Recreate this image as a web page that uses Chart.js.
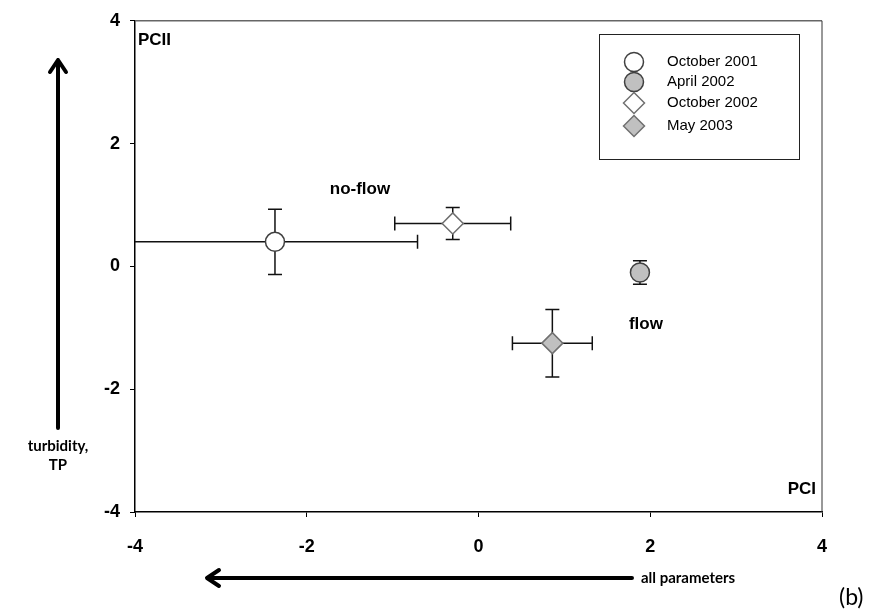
<!DOCTYPE html>
<html>
<head>
<meta charset="utf-8">
<script src="https://cdn.jsdelivr.net/npm/chart.js@4.4.0/dist/chart.umd.min.js"></script>
<style>
  html, body { margin: 0; padding: 0; background: #fff; }
  #wrap { position: relative; width: 889px; height: 615px; }
</style>
</head>
<body>
<div id="wrap">
  <canvas id="chart" width="889" height="615"></canvas>
</div>
<script>
// sampling campaigns
const seasons = ['October 2001', 'April 2002', 'October 2002', 'May 2003'];
const pc1 = [-2.37, 1.88, -0.30, 0.86];
const pc2 = [0.40, -0.10, 0.70, -1.25];
const pc1Err = [1.66, 0.05, 0.675, 0.465];
const pc2Err = [0.53, 0.19, 0.26, 0.55];
const pointStyles = ['circle', 'circle', 'rectRot', 'rectRot'];
const fills = ['#ffffff', '#c0c0c0', '#ffffff', '#c0c0c0'];
const edges = ['#404040', '#404040', '#707070', '#707070'];
const radii = [9.5, 9.5, 10.5, 10.5];
const axisTicks = [-4, -2, 0, 2, 4];

// text notes placed in PC coordinates
const notes = [
  {text: 'no-flow', x: -1.38, y: 1.25},
  {text: 'flow', x: 1.95, y: -0.94}
];

const tickFont = {family: 'Liberation Sans, Arial, sans-serif', size: 18, weight: 'bold'};

const errorBars = {
  id: 'errorBars',
  beforeDatasetsDraw(chart) {
    const {ctx, chartArea: a, scales: {x, y}} = chart;
    ctx.save();
    ctx.beginPath();
    ctx.rect(a.left, a.top, a.right - a.left, a.bottom - a.top);
    ctx.clip();
    ctx.strokeStyle = '#111';
    ctx.lineWidth = 1.5;
    const cap = 7;
    pc1.forEach((v, i) => {
      const px = x.getPixelForValue(v);
      const py = y.getPixelForValue(pc2[i]);
      const x0 = x.getPixelForValue(v - pc1Err[i]);
      const x1 = x.getPixelForValue(v + pc1Err[i]);
      const y0 = y.getPixelForValue(pc2[i] + pc2Err[i]);
      const y1 = y.getPixelForValue(pc2[i] - pc2Err[i]);
      ctx.beginPath();
      ctx.moveTo(x0, py); ctx.lineTo(x1, py);
      ctx.moveTo(x0, py - cap); ctx.lineTo(x0, py + cap);
      ctx.moveTo(x1, py - cap); ctx.lineTo(x1, py + cap);
      ctx.moveTo(px, y0); ctx.lineTo(px, y1);
      ctx.moveTo(px - cap, y0); ctx.lineTo(px + cap, y0);
      ctx.moveTo(px - cap, y1); ctx.lineTo(px + cap, y1);
      ctx.stroke();
    });
    ctx.restore();
  }
};

const extras = {
  id: 'extras',
  afterDraw(chart) {
    const {ctx, chartArea: a, scales: {x, y}} = chart;
    ctx.save();

    // frame top + right
    ctx.strokeStyle = '#666';
    ctx.lineWidth = 1.5;
    ctx.beginPath();
    ctx.moveTo(a.left, a.top); ctx.lineTo(a.right, a.top);
    ctx.stroke();
    ctx.strokeStyle = '#333';
    ctx.lineWidth = 1;
    ctx.beginPath();
    ctx.moveTo(a.right, a.top); ctx.lineTo(a.right, a.bottom);
    ctx.stroke();

    // corner labels
    ctx.fillStyle = '#000';
    ctx.font = 'bold 17px Liberation Sans, Arial, sans-serif';
    ctx.textBaseline = 'middle';
    ctx.textAlign = 'left';
    ctx.fillText('PCII', a.left + 3, a.top + 20);
    ctx.textAlign = 'right';
    ctx.fillText('PCI', a.right - 6, a.bottom - 23);

    ctx.textAlign = 'center';
    notes.forEach(n => ctx.fillText(n.text, x.getPixelForValue(n.x), y.getPixelForValue(n.y)));

    // legend box
    const lx = 599, ly = 34, lw = 200, lh = 125;
    ctx.strokeStyle = '#222';
    ctx.lineWidth = 1;
    ctx.strokeRect(lx + 0.5, ly + 0.5, lw, lh);
    ctx.font = '15px Liberation Sans Narrow, Liberation Sans, Arial, sans-serif';
    ctx.textAlign = 'left';
    const rows = [62, 82, 103, 126];
    seasons.forEach((s, i) => {
      ctx.fillStyle = fills[i];
      ctx.strokeStyle = edges[i];
      ctx.lineWidth = 1.5;
      Chart.helpers.drawPoint(ctx, {pointStyle: pointStyles[i], radius: radii[i], borderWidth: 1.5}, 634, rows[i]);
      ctx.fillStyle = '#000';
      ctx.fillText(s, 667, rows[i]);
    });

    // direction arrows
    ctx.strokeStyle = '#000';
    ctx.fillStyle = '#000';
    ctx.lineWidth = 4;
    ctx.lineCap = 'round';
    ctx.lineJoin = 'round';
    ctx.beginPath();
    ctx.moveTo(58, 428); ctx.lineTo(58, 60);
    ctx.moveTo(50, 72); ctx.lineTo(58, 60); ctx.lineTo(66, 72);
    ctx.stroke();
    ctx.beginPath();
    ctx.moveTo(632, 578); ctx.lineTo(207, 578);
    ctx.moveTo(219, 570); ctx.lineTo(207, 578); ctx.lineTo(219, 586);
    ctx.stroke();

    ctx.font = 'bold 15px Lato, sans-serif';
    ctx.textAlign = 'center';
    ctx.fillText('turbidity,', 58, 446);
    ctx.fillText('TP', 58, 465);
    ctx.textAlign = 'left';
    ctx.fillText('all parameters', 641, 578);
    ctx.font = '23px Lato, sans-serif';
    ctx.fillText('(b)', 839, 598);
    ctx.restore();
  }
};

new Chart(document.getElementById('chart'), {
  type: 'scatter',
  data: {
    datasets: seasons.map((s, i) => ({
      label: s,
      data: [{x: pc1[i], y: pc2[i]}],
      pointStyle: pointStyles[i],
      pointRadius: radii[i],
      pointHoverRadius: radii[i],
      pointBackgroundColor: fills[i],
      pointBorderColor: edges[i],
      pointBorderWidth: 1.5
    }))
  },
  options: {
    responsive: false,
    animation: false,
    devicePixelRatio: 1,
    layout: {padding: {top: 18, right: 67, left: 0, bottom: 0}},
    plugins: {legend: {display: false}, tooltip: {enabled: false}},
    scales: {
      x: {
        type: 'linear', min: -4, max: 4,
        afterBuildTicks: s => { s.ticks = axisTicks.map(v => ({value: v})); },
        afterFit: s => { s.height = 103; },
        ticks: {font: tickFont, color: '#000', padding: 19},
        grid: {drawOnChartArea: false, drawTicks: true, tickLength: 5, color: '#000'},
        border: {display: true, color: '#000', width: 1.5}
      },
      y: {
        type: 'linear', min: -4, max: 4,
        afterBuildTicks: s => { s.ticks = axisTicks.map(v => ({value: v})); },
        afterFit: s => { s.width = 135; },
        ticks: {font: tickFont, color: '#000', padding: 10},
        grid: {drawOnChartArea: false, drawTicks: true, tickLength: 5, color: '#000'},
        border: {display: true, color: '#000', width: 1.5}
      }
    }
  },
  plugins: [errorBars, extras]
});
</script>
</body>
</html>
